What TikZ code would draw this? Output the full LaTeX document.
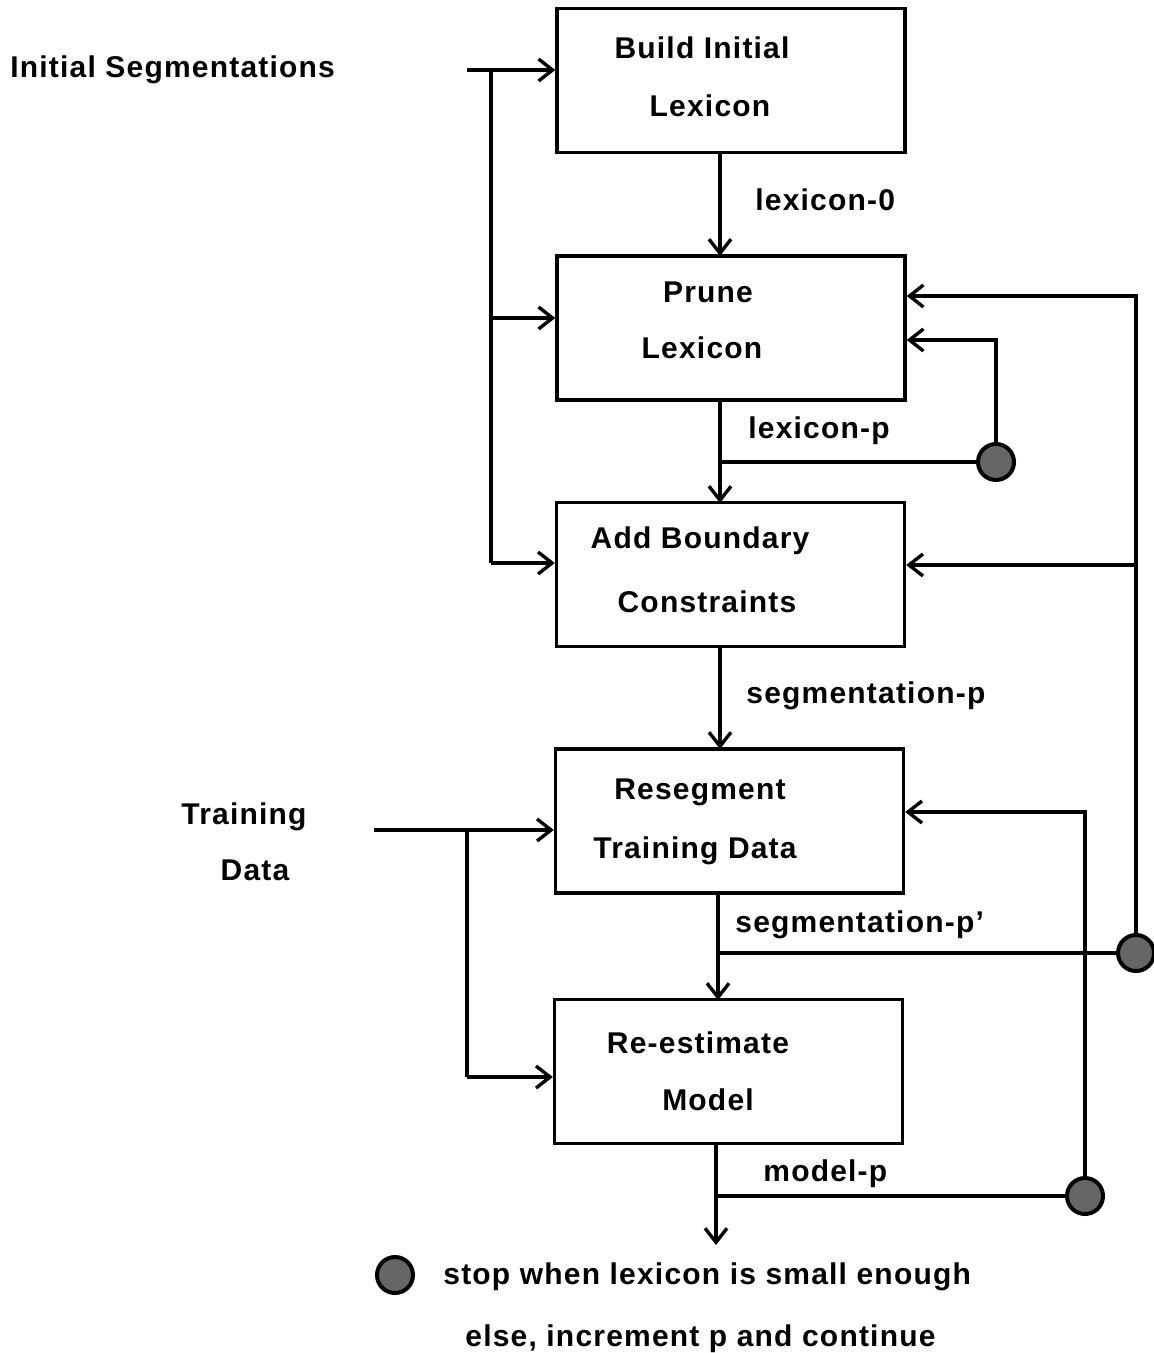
\documentclass[tikz,border=0pt]{standalone}
\usepackage{fontspec}
\setmainfont[LetterSpace=4]{Liberation Sans}
\usetikzlibrary{arrows.meta}
\begin{document}
\begin{tikzpicture}[x=0.5pt,y=-0.5pt,
  box/.style={draw,line width=1.7pt,minimum width=174pt,minimum height=72pt,inner sep=0pt},
  lbl/.style={font=\bfseries\fontsize{15}{18}\selectfont,inner sep=0pt,yshift=-1.5pt},
  conn/.style={line width=1.7pt},
  arr/.style={conn,-{Straight Barb[length=7pt,width=11pt,line width=1.7pt]}},
  stopc/.style={circle,draw,line width=2pt,fill=black!60,minimum size=18pt,inner sep=0pt}]
\useasboundingbox (0,0) rectangle (1154,1353);
% boxes
\node[box] (b1) at (731,80.5) {};
\node[box] (b2) at (731,328) {};
\node[box] (b3) at (730.5,574.5) {};
\node[box] (b4) at (729.5,821) {};
\node[box] (b5) at (728.5,1071.5) {};
\node[lbl] (t1a) at (702,45) {Build Initial};
\node[lbl] (t1b) at (710,103) {Lexicon};
\node[lbl] (t2a) at (708,289) {Prune};
\node[lbl] (t2b) at (702,345) {Lexicon};
\node[lbl] (t3a) at (700,538) {Add Boundary};
\node[lbl] (t3b) at (707,599) {Constraints};
\node[lbl] (t4a) at (700,789) {Resegment};
\node[lbl] (t4b) at (695,848) {Training Data};
\node[lbl] (t5a) at (698,1040) {Re-estimate};
\node[lbl] (t5b) at (708,1097) {Model};
% flow labels
\node[lbl,anchor=west] (l0) at (755,197) {lexicon-0};
\node[lbl,anchor=west] (lp) at (748,428) {lexicon-p};
\node[lbl,anchor=west] (sp) at (746,693) {segmentation-p};
\node[lbl,anchor=west] (spp) at (735,922) {segmentation-p'};
\node[lbl,anchor=west] (mp) at (763,1171) {model-p};
% inputs
\node[lbl,anchor=west] (is) at (10,67) {Initial Segmentations};
\node[lbl] (tr1) at (244,814) {Training};
\node[lbl] (tr2) at (255,867) {Data};
% circles
\node[stopc] (c1) at (996,462) {};
\node[stopc] (c2) at (1136,953) {};
\node[stopc] (c3) at (1085,1196) {};
\node[stopc] (cl) at (395,1275) {};
\node[lbl,anchor=west] (leg1) at (443,1274) {stop when lexicon is small enough};
\node[lbl,anchor=west] (leg2) at (465,1336) {else, increment p and continue};
% coordinates
\coordinate (s0) at (467,70);
\coordinate (v1) at (491,70);
\coordinate (s1) at (374,830);
\coordinate (v2) at (467,830);
\coordinate (j1) at (720,462);
\coordinate (j2) at (718,953);
\coordinate (j3) at (716,1196);
\coordinate (end) at (716,1245);
% main flow
\draw[arr] (720,153) -- (720,256);
\draw[arr] (720,400) -- (720,503);
\draw[arr] (720,646) -- (720,749);
\draw[arr] (718,893) -- (718,1000);
\draw[arr] (j3 |- b5.south) -- (end);
% loops
\draw[conn] (j1) -- (c1.west);
\draw[arr] (c1.north) -- (996,340) -- (b2.east |- 0,340);
\draw[conn] (j2) -- (c2.west);
\draw[arr] (c2.north) -- (1136,296) -- (b2.east |- 0,296);
\draw[arr] (1136,565) -- (b3.east |- 0,565);
\draw[conn] (j3) -- (c3.west);
\draw[arr] (c3.north) -- (1085,812) -- (b4.east |- 0,812);
% inputs
\draw[arr] (s0) -- (b1.west |- s0);
\draw[conn] (v1) -- (491,563);
\draw[arr] (491,318) -- (b2.west |- 0,318);
\draw[arr] (491,563) -- (b3.west |- 0,563);
\draw[arr] (s1) -- (b4.west |- s1);
\draw[conn] (v2) -- (467,1077);
\draw[arr] (467,1077) -- (b5.west |- 0,1077);
\end{tikzpicture}
\end{document}
